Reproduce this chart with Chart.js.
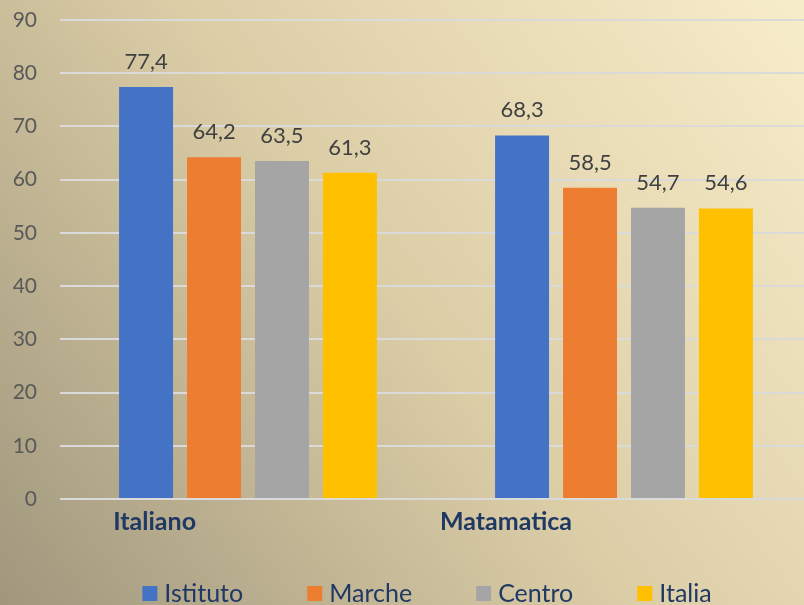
<!DOCTYPE html>
<html>
<head>
<meta charset="utf-8">
<script src="https://cdn.jsdelivr.net/npm/chart.js@4"></script>
<style>
  html, body { margin: 0; padding: 0; overflow: hidden; background: #d8cba5; }
  #wrap { position: relative; width: 812px; height: 605px; }
</style>
</head>
<body>
<div id="wrap"><canvas id="myChart"></canvas></div>
<script>
// data
var categories = ['Italiano', 'Matamatica'];
var seriesNames = ['Istituto', 'Marche', 'Centro', 'Italia'];
var istituto = [77.4, 68.3];
var marche = [64.2, 58.5];
var centro = [63.5, 54.7];
var italia = [61.3, 54.6];
var yMin = 0, yMax = 90, yStep = 10;

var colors = ['#4472C4', '#ED7D31', '#A5A5A5', '#FFC000'];
var seriesValues = [istituto, marche, centro, italia];

// gradient background
var bgPlugin = {
  id: 'bg',
  beforeDraw: function(chart) {
    var ctx = chart.ctx;
    var g = ctx.createLinearGradient(0, chart.height, 804, 0);
    g.addColorStop(0, '#A0977D');
    g.addColorStop(0.5, '#DBCDA6');
    g.addColorStop(1, '#F8EDCA');
    ctx.save();
    ctx.fillStyle = g;
    ctx.fillRect(0, 0, chart.width, chart.height);
    ctx.restore();
  }
};

// value labels above the bars, italian decimal comma
var valuePlugin = {
  id: 'values',
  afterDatasetsDraw: function(chart) {
    var ctx = chart.ctx;
    ctx.save();
    ctx.font = '22px Lato';
    ctx.fillStyle = '#404040';
    ctx.textAlign = 'center';
    ctx.textBaseline = 'alphabetic';
    chart.data.datasets.forEach(function(ds, i) {
      chart.getDatasetMeta(i).data.forEach(function(bar, j) {
        var txt = ds.data[j].toFixed(1).replace('.', ',');
        ctx.fillText(txt, bar.x, bar.y - 18);
      });
    });
    ctx.restore();
  }
};

// legend drawn by hand so the spacing can match
var legendPlugin = {
  id: 'myLegend',
  afterDraw: function(chart) {
    var ctx = chart.ctx;
    var box = 15, gapText = 7, gapItem = 64;
    ctx.save();
    ctx.font = '25px Lato';
    var widths = chart.data.datasets.map(function(ds) {
      return box + gapText + ctx.measureText(ds.label).width;
    });
    var total = widths.reduce(function(a, b) { return a + b; }, 0) + gapItem * (widths.length - 1);
    var x = 427 - total / 2;
    var yc = 593.5;
    ctx.textBaseline = 'middle';
    ctx.textAlign = 'left';
    chart.data.datasets.forEach(function(ds, i) {
      ctx.fillStyle = ds.backgroundColor;
      ctx.fillRect(x, yc - box / 2, box, box);
      ctx.fillStyle = '#203864';
      ctx.fillText(ds.label, x + box + gapText, yc);
      x += widths[i] + gapItem;
    });
    ctx.restore();
  }
};

var datasets = seriesNames.map(function(name, i) {
  return {
    label: name,
    data: seriesValues[i],
    backgroundColor: colors[i],
    borderWidth: 0,
    categoryPercentage: 0.723,
    barPercentage: 0.794
  };
});

var myChart = new Chart(document.getElementById('myChart'), {
  type: 'bar',
  data: {
    labels: categories,
    datasets: datasets
  },
  options: {
    responsive: true,
    maintainAspectRatio: false,
    animation: false,
    layout: {
      padding: { top: 20, right: 0, bottom: 68, left: 0 }
    },
    plugins: {
      legend: { display: false },
      tooltip: { enabled: false }
    },
    scales: {
      x: {
        grid: { display: false },
        border: { display: false },
        ticks: {
          font: { family: 'Lato', size: 25, weight: 'bold' },
          color: '#203864',
          align: 'end',
          labelOffset: -52,
          padding: 0,
          maxRotation: 0
        }
      },
      y: {
        min: yMin,
        max: yMax,
        afterFit: function(s) {
          s.width = 60;
          s.paddingTop = 0;
          s.paddingBottom = 0;
        },
        grid: { color: '#DADADA', lineWidth: 2, drawTicks: false },
        border: { display: false },
        ticks: {
          stepSize: yStep,
          font: { family: 'Lato', size: 21 },
          color: '#595959',
          padding: 23
        }
      }
    }
  },
  plugins: [bgPlugin, valuePlugin, legendPlugin]
});
</script>
</body>
</html>
